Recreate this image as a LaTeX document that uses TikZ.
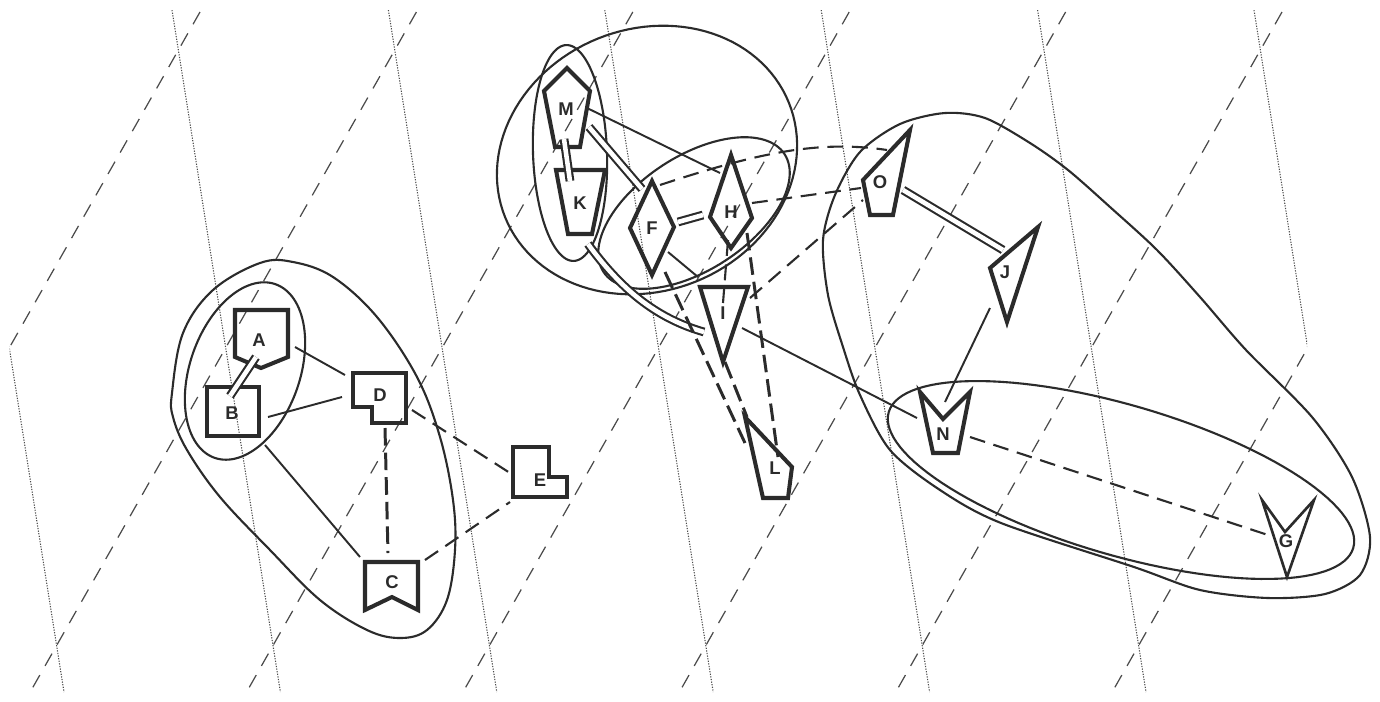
\documentclass[tikz,border=0pt]{standalone}
\usepackage{fontspec}
\setmainfont{Liberation Sans}
\usetikzlibrary{calc}
\definecolor{ink}{HTML}{2B2B2B}
\newcommand{\rotell}[6][]{\draw[grp,#1] plot[domain=0:360,samples=121,variable=\t] ({#2+#4*cos(\t)*cos(#6)-#5*sin(\t)*sin(#6)},{#3+#4*cos(\t)*sin(#6)+#5*sin(\t)*cos(#6)}) -- cycle;}
\begin{document}
\begin{tikzpicture}[x=0.02cm,y=-0.02cm,
  lbl/.style={inner sep=0pt, font=\bfseries\fontsize{10.5}{12}\selectfont, text=ink},
  shp/.style={draw=ink, line width=2.3pt, line join=miter},
  grp/.style={draw=ink, line width=1.2pt},
  con/.style={draw=ink, line width=1.1pt},
  dbl/.style={draw=ink, line width=1.2pt, double=white, double distance=2.6pt},
  dsh/.style={draw=ink, line width=1.2pt, dash pattern=on 9pt off 5pt},
  dshb/.style={draw=ink, line width=1.7pt, dash pattern=on 10pt off 4pt},
  gdot/.style={draw=ink!85, line width=0.6pt, dash pattern=on 0.7pt off 0.8pt},
  gdash/.style={draw=ink!85, line width=0.7pt, dash pattern=on 8pt off 6pt}]
\useasboundingbox (0,0) rectangle (1380,701);
% background lattice
\begin{scope}
  \clip (9.5,10) rectangle (1307,692);
  \foreach \k in {0,...,6} {
    \draw[gdot] ({-44.4+216.4*\k},10) -- ({-44.4+216.4*\k+108.4},692);
  }
  \foreach \k in {1,...,7} {
    \draw[gdash] ({200+216.4*(\k-1)},12) -- ({200+216.4*(\k-1)-386.2},692);
  }
\end{scope}
% nodes (labels)
\node[lbl] (A) at (259,340) {A};
\node[lbl] (B) at (232,413) {B};
\node[lbl] (D) at (380,395) {D};
\node[lbl] (C) at (392,582) {C};
\node[lbl] (E) at (540,480) {E};
\node[lbl] (M) at (566,109) {M};
\node[lbl] (K) at (580,203) {K};
\node[lbl] (F) at (652,228) {F};
\node[lbl] (H) at (731,212) {H};
\node[lbl] (I) at (723,313) {I};
\node[lbl] (L) at (775,468) {L};
\node[lbl] (O) at (880,182) {O};
\node[lbl] (J) at (1005,272) {J};
\node[lbl] (N) at (943,434) {N};
\node[lbl] (G) at (1286,541) {G};
% node outlines
\draw[shp,shift={(A)}] (-24,-30) -- (29,-30) -- (29,17) -- (2,28) -- (-24,17) -- cycle;
\draw[shp,shift={(B)}] (-25,-26) rectangle (27,23);
\draw[shp,shift={(D)}] (-27,-22) -- (26,-22) -- (26,28) -- (-8,28) -- (-8,12) -- (-27,12) -- cycle;
\draw[shp,shift={(C)}] (-27,-20) -- (26,-20) -- (26,28) -- (0,15) -- (-27,28) -- cycle;
\draw[shp,shift={(E)}] (-27,-33) -- (9,-33) -- (9,-3) -- (27,-3) -- (27,17) -- (-27,17) -- cycle;
\draw[shp,shift={(M)}] (1,-41) -- (24,-18) -- (14,38) -- (-11,38) -- (-22,-18) -- cycle;
\draw[shp,shift={(K)}] (-24,-33) -- (25,-33) -- (12,31) -- (-12,31) -- cycle;
\draw[shp,shift={(F)}] (0,-47) -- (22,-1) -- (0,47) -- (-22,0) -- cycle;
\draw[shp,shift={(H)}] (0,-57) -- (21,6) -- (0,36) -- (-21,5) -- cycle;
\draw[shp,shift={(I)}] (-23,-26) -- (25,-26) -- (0,49) -- cycle;
\draw[shp,shift={(L)}] (-30,-51) -- (17,-1) -- (13,30) -- (-12,30) -- cycle;
\draw[shp,shift={(O)}] (30,-52) -- (-17,-2) -- (-10,33) -- (13,33) -- cycle;
\draw[shp,shift={(J)}] (33,-45) -- (-15,-4) -- (2,50) -- cycle;
\draw[shp,shift={(N)}] (-23,-42) -- (0,-15) -- (27,-42) -- (15,19) -- (-10,19) -- cycle;
\draw[shp,line width=1.5pt,shift={(G)}] (-24,-41) -- (-1,-9) -- (28,-41) -- (1,36) -- cycle;
% groups
\draw[grp] plot[smooth cycle, tension=0.6] coordinates {(172,393) (183,333) (213,290) (260,263) (293,262) (333,277) (377,317) (417,377) (440,437) (453,500) (455,550) (447,600) (427,630) (400,638) (367,630) (320,600) (270,550) (220,497) (187,450) (173,417)};
\rotell{245}{371}{92}{55}{-70.7}
\rotell{570}{153}{108}{37}{88}
\rotell{647}{160}{153}{131}{-22}
\rotell{694}{213}{108}{57}{-33}
\rotell{1121}{480}{242}{75}{16.3}
\draw[grp] plot[smooth cycle, tension=0.5] coordinates {(823,240) (835,195) (860,152) (900,124) (945,113) (985,118) (1030,143) (1068,170) (1110,207) (1157,250) (1200,297) (1246,350) (1312,417) (1352,477) (1370,537) (1360,575) (1325,594) (1268,598) (1200,590) (1134,567) (1001,523) (940,490) (890,450) (860,395) (843,347) (828,295)};
% connectors, left cluster
\draw[dbl] ($(A)+(-3,17)$) -- ($(B)+(-2,-17)$);
\draw[con] ($(A)+(36,7)$) -- ($(D)+(-35,-20)$);
\draw[con] ($(B)+(36,4)$) -- ($(D)+(-38,2)$);
\draw[con] ($(B)+(33,32)$) -- ($(C)+(-32,-25)$);
\draw[dshb] ($(D)+(5,33)$) -- ($(C)+(-4,-29)$);
\draw[dsh] ($(D)+(32,15)$) -- ($(E)+(-30,-7)$);
\draw[dsh] ($(C)+(33,-22)$) -- ($(E)+(-30,22)$);
% connectors, middle cluster
\draw[dbl] ($(M)+(-2,30)$) -- ($(K)+(-10,-22)$);
\draw[con] ($(M)+(21,-1)$) -- ($(H)+(-11,-39)$);
\draw[dbl] ($(M)+(23,18)$) -- ($(F)+(-10,-39)$);
\draw[dbl] ($(F)+(26,-6)$) -- ($(H)+(-28,3)$);
\draw[dbl] ($(K)+(8,41)$) .. controls ($(K)+(40,85)$) and ($(I)+(-68,5)$) .. ($(I)+(-19,19)$);
\draw[con] ($(F)+(16,24)$) -- ($(I)+(-25,-36)$);
\draw[con] ($(I)+(19,15)$) -- ($(N)+(-26,-16)$);
\draw[dshb] ($(F)+(13,44)$) -- ($(L)+(-30,-25)$);
\draw[dshb] ($(I)+(2,49)$) -- ($(L)+(-28,-51)$);
\draw[dshb] ($(H)+(16,21)$) -- ($(L)+(3,-11)$);
\draw[dsh] ($(H)+(-3,28)$) -- ($(I)+(0,-10)$);
\draw[dsh] ($(H)+(21,-9)$) -- ($(O)+(-19,6)$);
\draw[dsh] ($(F)+(8,-43)$) .. controls ($(F)+(108,-76)$) and ($(O)+(-60,-42)$) .. ($(O)+(7,-32)$);
\draw[dsh] ($(I)+(27,-15)$) -- ($(O)+(-17,18)$);
% connectors, right cluster
\draw[dbl] ($(O)+(23,8)$) -- ($(J)+(-2,-22)$);
\draw[con] ($(J)+(-15,36)$) -- ($(N)+(2,-32)$);
\draw[dsh] ($(N)+(27,3)$) -- ($(G)+(-18,-6)$);
\end{tikzpicture}
\end{document}
